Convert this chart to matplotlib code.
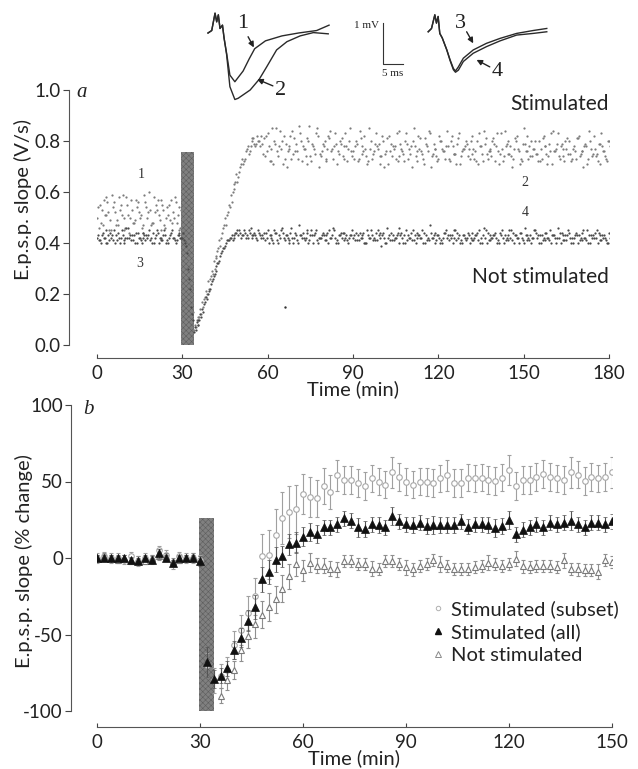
import numpy as np
import matplotlib
matplotlib.use("Agg")
import matplotlib.pyplot as plt
from matplotlib.lines import Line2D

plt.rcParams['font.family'] = ['Lato', 'DejaVu Sans']
plt.rcParams['axes.unicode_minus'] = False
plt.rcParams['hatch.linewidth'] = 0.4
INK = '#222222'
plt.rcParams['text.color'] = INK
plt.rcParams['axes.labelcolor'] = INK
plt.rcParams['xtick.color'] = '#444444'
plt.rcParams['ytick.color'] = '#444444'
plt.rcParams['xtick.labelcolor'] = INK
plt.rcParams['ytick.labelcolor'] = INK
SERIF = ['Liberation Serif', 'DejaVu Serif']

# ---------------- panel a : e.p.s.p. slope (V/s x 100), three readings per minute
# segments start at: pre 0 min, tetanus 30 min, recovery 34 min, late 58 min
stim_pre = [
    [50,55,47,58,52,45,56,49,53,59,46,51,57,48,54,50,44,56,52,47,58,53,49,55,46,51,57,50,48,54],
    [54,48,57,51,45,59,52,47,55,50,58,44,53,49,56,51,47,54,60,48,52,57,45,53,50,55,48,58,51,46],
    [46,53,51,56,49,54,47,58,51,45,55,50,48,57,52,46,59,50,53,48,55,51,57,47,54,49,52,56,45,53],
]
stim_tet = [[53,50,38,20], [50,44,33,16], [55,41,28,13]]
stim_rec = [
    [6,10,11,17,19,25,27,33,35,41,44,50,52,59,61,67,68,73,73,78,78,81,79,80],
    [8,8,14,15,21,22,29,30,37,39,46,47,55,56,63,64,70,71,76,75,80,79,82,78],
    [7,11,12,18,20,26,28,34,38,42,47,51,54,60,64,66,71,72,77,76,81,78,80,82],
]
stim_late = [
    [79,74,83,77,71,85,78,80,73,76,82,75,79,86,72,77,81,74,78,83,70,76,80,77,84,73,79,75,81,78,72,85,
     76,80,73,78,82,71,77,75,83,79,74,70,81,76,78,73,84,77,72,79,75,80,74,82,76,71,78,83,75,77,73,80,76,84,72,78,75,81,74,77,
     79,73,82,76,71,78,84,75,77,80,72,76,83,74,79,75,70,81,77,73,85,76,78,74,80,72,77,82,75,79,71,76,83,78,74,77,80,73,76,81,75,70,78,84,74,77,72,79,76,73,80],
    [75,82,78,72,80,76,84,71,79,77,73,81,76,83,78,74,80,72,77,85,75,79,73,82,76,78,71,80,74,83,77,76,
     73,79,84,75,77,72,80,76,78,74,82,75,71,79,77,83,74,76,80,73,78,85,72,77,75,81,76,70,79,74,82,77,73,78,80,75,71,83,76,78,
     74,80,77,72,83,75,79,73,76,81,78,71,77,84,75,78,73,80,76,72,79,82,74,77,75,80,73,78,71,76,84,77,74,79,72,81,75,77,73,82,76,78,71,80,75,74,79,83,76,72,78],
    [81,76,72,85,79,74,77,82,70,78,84,76,73,80,77,71,86,79,75,82,74,78,72,81,77,83,76,79,73,78,80,74,
     78,72,81,76,74,85,73,79,77,71,80,76,82,74,78,72,79,75,83,77,70,78,76,81,73,79,84,74,77,72,80,76,78,73,82,75,79,71,77,80,
     77,75,73,80,78,72,81,76,74,79,83,75,72,78,80,74,77,82,71,79,76,73,80,77,75,72,81,78,74,83,76,79,73,77,80,75,72,78,81,74,76,79,73,77,82,75,71,78,74,80,77],
]
ns_pre = [
    [42,41,44,40,43,42,45,41,40,43,42,46,41,43,40,42,44,41,43,42,40,45,42,41,43,40,44,42,41,43],
    [43,40,42,45,41,43,40,44,42,41,46,42,43,40,44,41,42,43,45,40,42,44,41,43,40,42,45,41,43,42],
    [41,43,42,40,44,41,43,42,45,40,42,43,41,44,42,40,43,42,41,44,43,40,42,45,41,43,42,40,44,42],
]
ns_tet = [[42,40,30,15], [44,39,26,12], [41,36,22,10]]
ns_rec = [
    [5,9,10,14,17,20,24,27,31,33,37,39,41,42,43,44,45,43,44,42,46,43,42,44],
    [7,8,12,13,19,21,25,28,32,35,38,40,41,43,42,45,44,43,42,45,43,44,41,43],
    [6,10,11,16,18,22,26,29,32,36,38,41,42,41,44,43,42,45,43,44,42,43,45,42],
]
ns_late = [
    [43,41,45,42,40,44,43,46,41,42,44,40,43,47,42,41,44,43,40,45,42,43,41,44,42,46,40,43,42,44,41,43,
     42,44,41,43,40,45,42,41,44,43,39,42,46,41,43,42,40,44,43,41,42,45,40,43,42,44,41,47,42,40,43,41,44,42,43,40,45,42,41,43,
     42,40,44,43,41,42,46,40,43,42,44,41,43,40,42,45,41,43,42,44,40,43,41,42,45,43,40,42,44,41,43,42,46,40,43,41,44,42,43,40,42,45,41,43,42,44,40,43,42,41,44],
    [42,44,40,43,45,41,42,44,43,40,46,42,41,43,44,42,40,45,43,41,42,44,43,40,42,45,41,43,44,42,40,43,
     43,41,44,42,40,43,45,42,41,44,43,40,42,44,41,43,46,42,40,43,44,41,42,43,45,40,42,44,43,41,42,40,44,43,42,45,41,43,40,42,
     44,42,41,43,45,40,42,44,41,43,42,40,45,43,41,42,44,43,40,42,46,41,43,42,44,40,43,41,42,45,43,40,42,44,41,43,42,40,44,43,41,42,45,40,43,42,44,41,43,40,42],
    [44,42,43,41,44,40,45,42,43,41,42,44,40,43,42,45,41,43,44,40,42,43,41,45,43,42,40,44,41,43,42,45,
     41,43,42,44,40,42,43,41,45,42,44,40,43,41,42,44,43,40,45,42,41,43,44,42,40,43,41,42,44,43,40,42,45,41,43,42,44,40,43,41,
     43,41,42,44,40,43,45,41,42,43,40,44,42,41,43,45,40,42,44,41,43,42,40,45,42,43,41,44,42,40,43,42,44,41,43,45,40,42,43,41,44,42,40,43,42,45,41,43,42,40,43],
]
stray_t, stray_v = [66], [15]
seg_start = {'pre': 0, 'tet': 30, 'rec': 34, 'late': 58}
tetanus_a = (29.5, 34.1, 0.757)   # start, end (min), height (V/s)

# ---------------- panel b : % change, one point every 2 min
t_pre_start, t_post_start, t_ns_post_start, t_step = 0, 32, 36, 2
all_pre = [0,0,0,0,0,-1.5,-2,0,-1,3,0,-3,0,0,0,-2]
all_pre_err = [2,2,2,2,2,2,2,2,2,3,2,2,2,2,2,3]
all_post = [-68,-79,-77,-72,-60,-52,-41,-32,-14,-9,-1,1,9,10,14,17,15.5,20,20,22,26,24.5,20,19,22,21.5,20,27.5,24,22,
            21.5,23,21,21.5,21.5,21.5,21.5,24,20.5,22,22,21.5,19.5,21,25,15.5,18.5,20,22,20,23,22,23,24.5,22,20,23,23,22,24]
all_post_err = [10,6,5,5,6,6,7,8,8,8,8,7,7,7,6,6,6,5,5,5,5,5,6,5,5,5,5,6,5,5,
                5,5,5,6,5,5,5,5,5,5,5,5,6,5,6,5,5,5,5,5,5,5,5,6,5,5,5,5,5,5]
ns_b_pre = [0,1,0,-1,0,-2,-1,-2,0,1,1,-2,-1,0,1,-1]
ns_b_pre_err = [2,2,2,2,2,2,2,2,2,2,2,2,2,2,2,2]
ns_b_post = [-90,-80,-73,-60,-51,-43,-37,-32,-27,-20,-12,-4,-8,-3,-5,-5,-7,-7.5,-2,-2,-4,-4,-7,-7,-2,-2,-4,-6,-7.5,-5,
             -4,-1.5,-4,-5,-7,-7,-7,-6,-5,-3,-4,-5,-4,-0.5,-5.5,-6,-5,-5,-5,-6,-1.5,-7,-7.5,-8,-8,-9,-1.5,-2.5]
ns_b_post_err = [5,6,6,7,8,9,9,9,9,9,8,8,7,6,5,5,5,5,4,4,4,4,5,4,4,4,4,5,4,4,
                 4,4,5,4,4,4,4,4,4,5,4,4,4,5,4,4,4,4,4,4,5,4,4,4,4,5,4,4]
sub_pre = [0,1,0,0,-1,1,-2,0,-1,5,2,-4,1,0,0,-1]
sub_pre_err = [3,3,3,3,3,3,3,3,3,3,3,3,3,3,3,3]
sub_post = [-70,-80,-77,-73,-57,-47,-36,-25,1,2,15,26,30,32,42,40,39,47,43,54,51,51,49,47,52,50,48,56,53,50,
            48,50,49.5,49,52,54,49,49,52.5,52,52.5,51,50.5,52.5,57.5,47,51,51,53,55,53,52,51,56,54.5,50.5,53,52,53,56]
sub_post_err = [8,8,8,8,9,10,11,12,15,16,17,17,17,16,13,13,12,12,11,10,9,9,9,9,9,9,9,10,9,9,
                9,9,9,9,9,10,9,9,9,9,9,9,9,9,10,9,9,9,9,9,9,9,9,10,9,9,9,9,9,10]
tetanus_b = (29.7, 34.1, -100, 26)

# ---------------- inset traces (ms, mV)
tr1_t = [0,0.9,1.7,2.1,2.5,2.9,3.5,3.9,4.5,5.3,6.5,8.5,10.0,11.3,13.9,17.9,21.9,26.3,29.3]
tr1_v = [0,0.06,0.48,0.27,0.44,0.11,0.19,-0.13,-0.49,-1.02,-1.18,-0.92,-0.62,-0.38,-0.19,-0.07,0.0,0.06,0.19]
tr2_t = [0,0.9,1.7,2.1,2.5,2.9,3.5,3.9,4.5,5.3,6.5,7.3,10.2,12.4,14.2,16.6,19.1,22.3,25.5,29.1]
tr2_v = [0,0.06,0.48,0.27,0.44,0.11,0.19,-0.13,-0.52,-1.30,-1.61,-1.58,-1.38,-1.12,-0.82,-0.41,-0.21,-0.07,0.01,-0.02]
tr3_t = [0,0.8,1.6,2.0,2.4,2.8,3.4,4.5,5.3,6.1,6.6,7.3,8.5,10.9,14.1,17.4,21.4,25.4,28.7]
tr3_v = [0.03,0.11,0.44,0.24,0.40,-0.01,-0.12,-0.41,-0.65,-0.86,-0.92,-0.82,-0.61,-0.41,-0.25,-0.13,-0.01,0.06,0.11]
tr4_t = [0,0.8,1.6,2.0,2.4,2.8,3.4,4.5,5.3,6.1,6.6,7.3,8.5,10.9,14.1,17.4,21.4,25.4,28.7]
tr4_v = [0.03,0.11,0.44,0.24,0.40,-0.01,-0.12,-0.41,-0.67,-0.89,-0.95,-0.90,-0.69,-0.49,-0.33,-0.19,-0.05,-0.01,0.03]
tr34_offset = 53.3
scalebar = (42.3, 0.25, 5.0, 1.0)  # x, top, ms, mV

# =====================================================================
W, H = 638, 769
fig = plt.figure(figsize=(W / 100, H / 100), dpi=100)

def fax(l, t, r, b):
    return [l / W, 1 - b / H, (r - l) / W, (b - t) / H]

# ---------------- panel a
axa = fig.add_axes(fax(97, 90, 609, 345))
axa.set_xlim(0, 180)
axa.set_ylim(0, 1.0)
t0, t1, th = tetanus_a
axa.bar((t0 + t1) / 2, th, width=t1 - t0, bottom=0, color='#808080',
        edgecolor='#5e5e5e', hatch='xxxxxx', linewidth=0, zorder=1)

def cloud(ax, segs, name_keys, color, size):
    for seg, key in zip(segs, name_keys):
        for k, vals in enumerate(seg):
            v = np.asarray(vals) / 100.0
            t = seg_start[key] + np.arange(len(v)) + k / 3.0
            ax.scatter(t, v, s=size, c=color, linewidths=0, zorder=3)

keys = ['pre', 'tet', 'rec', 'late']
cloud(axa, [stim_pre, stim_tet, stim_rec, stim_late], keys, '#7c7c7c', 2.6)
cloud(axa, [ns_pre, ns_tet, ns_rec, ns_late], keys, '#4a4a4a', 2.6)
axa.scatter(stray_t, np.asarray(stray_v) / 100.0, s=3, c='#333333', linewidths=0)

# ---------------- panel b
axb = fig.add_axes(fax(97, 405, 612, 711))
axb.set_xlim(0, 150)
axb.set_ylim(-100, 100)
b0, b1, bb, bt = tetanus_b
axb.bar((b0 + b1) / 2, bt - bb, width=b1 - b0, bottom=bb, color='#808080',
        edgecolor='#5e5e5e', hatch='xxxxxx', linewidth=0, zorder=1)

def series(pre, pre_err, post, post_err, post_start):
    t = np.concatenate([t_pre_start + t_step * np.arange(len(pre)),
                        post_start + t_step * np.arange(len(post))])
    return t, np.concatenate([pre, post]), np.concatenate([pre_err, post_err])

ts, ys, es = series(sub_pre, sub_pre_err, sub_post, sub_post_err, t_post_start)
axb.errorbar(ts, ys, yerr=es, fmt='o', ms=4.0, mfc='white', mec='#a8a8a8', mew=0.8,
             ecolor='#a0a0a0', elinewidth=0.8, capsize=1.2, capthick=0.6, zorder=3)
tn, yn, en = series(ns_b_pre, ns_b_pre_err, ns_b_post, ns_b_post_err, t_ns_post_start)
axb.errorbar(tn, yn, yerr=en, fmt='^', ms=5.0, mfc='white', mec='#7a7a7a', mew=0.8,
             ecolor='#8f8f8f', elinewidth=0.8, capsize=1.2, capthick=0.6, zorder=4)
ta, ya, ea = series(all_pre, all_pre_err, all_post, all_post_err, t_post_start)
axb.errorbar(ta, ya, yerr=ea, fmt='^', ms=5.2, mfc='#111111', mec='#111111', mew=0.5,
             ecolor='#555555', elinewidth=0.8, capsize=1.2, capthick=0.6, zorder=5)

handles = [Line2D([], [], ls='none', marker='o', ms=3.2, mfc='white', mec='#b0b0b0', mew=0.7),
           Line2D([], [], ls='none', marker='^', ms=4.5, mfc='#111111', mec='#111111'),
           Line2D([], [], ls='none', marker='^', ms=4.5, mfc='white', mec='#8a8a8a', mew=0.7)]
leg = axb.legend(handles, ['Stimulated (subset)', 'Stimulated (all)', 'Not stimulated'],
                 loc='upper left', bbox_to_anchor=(432 / W, 1 - 600 / H),
                 bbox_transform=fig.transFigure, frameon=False, fontsize=14.5,
                 handlelength=0.6, handletextpad=0.35, labelspacing=0.28,
                 borderpad=0, borderaxespad=0)

# ---------------- axes styling
for ax, yoff, xoff in [(axa, 20.5, 9.4), (axb, 18.5, 11.5)]:
    for s in ['top', 'right']:
        ax.spines[s].set_visible(False)
    ax.spines['left'].set_position(('outward', yoff))
    ax.spines['bottom'].set_position(('outward', xoff))
    for s in ['left', 'bottom']:
        ax.spines[s].set_color('#555555')
        ax.spines[s].set_linewidth(0.8)
    ax.tick_params(axis='y', direction='out', length=4, width=0.8, pad=2, labelsize=13.5)
    ax.tick_params(axis='x', direction='in', length=3, width=0.8, pad=5, labelsize=13.5)
    ax.set_facecolor('none')

axa.set_xticks(np.arange(0, 181, 30))
axa.set_yticks(np.arange(0, 1.01, 0.2))
axa.set_yticklabels([f'{v:.1f}' for v in np.arange(0, 1.01, 0.2)])
axb.set_xticks(np.arange(0, 151, 30))
axb.set_yticks([-100, -50, 0, 50, 100])

axa.set_xlabel('Time (min)', fontsize=14.5, labelpad=-1)
axb.set_xlabel('Time (min)', fontsize=14.5, labelpad=-1)
axa.set_ylabel('E.p.s.p. slope (V/s)', fontsize=14.5)
axb.set_ylabel('E.p.s.p. slope (% change)', fontsize=14.5)
axa.yaxis.set_label_coords(-0.126, 0.57)
axb.yaxis.set_label_coords(-0.125, 0.49)

axa.text(-0.03, 0.99, 'a', transform=axa.transAxes, fontsize=15, style='italic',
         family=SERIF, ha='center', va='center')
axb.text(-0.016, 0.985, 'b', transform=axb.transAxes, fontsize=15, style='italic',
         family=SERIF, ha='center', va='center')
axa.text(1.0, 0.945, 'Stimulated', transform=axa.transAxes, fontsize=15, ha='right', va='center')
axa.text(1.0, 0.267, 'Not stimulated', transform=axa.transAxes, fontsize=15, ha='right', va='center')
for lab, x, y in [('1', 15.5, 0.667), ('3', 15.0, 0.32), ('2', 150.4, 0.636), ('4', 150.4, 0.52)]:
    axa.text(x, y, lab, fontsize=10, family=SERIF, ha='center', va='center', color='#333333')

# ---------------- inset traces
axi = fig.add_axes(fax(195, 5, 560, 110))
axi.set_xlim(-3.15, 85.2)
axi.set_ylim(-1.864, 0.678)
axi.axis('off')
tc = '#2a2a2a'
axi.plot(tr1_t, tr1_v, color=tc, lw=1.0)
axi.plot(tr2_t, tr2_v, color=tc, lw=1.0)
axi.plot(np.asarray(tr3_t) + tr34_offset, tr3_v, color=tc, lw=1.0)
axi.plot(np.asarray(tr4_t) + tr34_offset, tr4_v, color=tc, lw=1.0)
sx, stop, sms, smv = scalebar
axi.plot([sx, sx, sx + sms], [stop, stop - smv, stop - smv], color='#333333', lw=0.8)
axi.text(sx - 0.9, stop - 0.06, '1 mV', family=SERIF, fontsize=8, ha='right', va='center')
axi.text(sx + sms / 2, stop - smv - 0.12, '5 ms', family=SERIF, fontsize=8, ha='center', va='top')
arrow = dict(arrowstyle='-|>', color='#222222', lw=1.0, mutation_scale=8, shrinkA=0, shrinkB=0)
for lab, xt, yt in [('1', 8.5, 0.23), ('2', 17.6, -1.40),
                    ('3', 53.3 + 7.7, 0.23), ('4', 53.3 + 16.8, -0.92)]:
    axi.text(xt, yt, lab, family=SERIF, fontsize=16, ha='center', va='center', color='#222222')
for xs, ys, xa, ya in [(9.7, -0.09, 11.1, -0.35), (15.7, -1.28, 11.9, -1.12),
                       (53.3 + 9.3, 0.03, 53.3 + 10.9, -0.25),
                       (53.3 + 14.9, -0.82, 53.3 + 11.7, -0.65)]:
    axi.annotate('', xy=(xa, ya), xytext=(xs, ys), arrowprops=arrow)

fig.savefig('out.png', dpi=100, facecolor='white')
